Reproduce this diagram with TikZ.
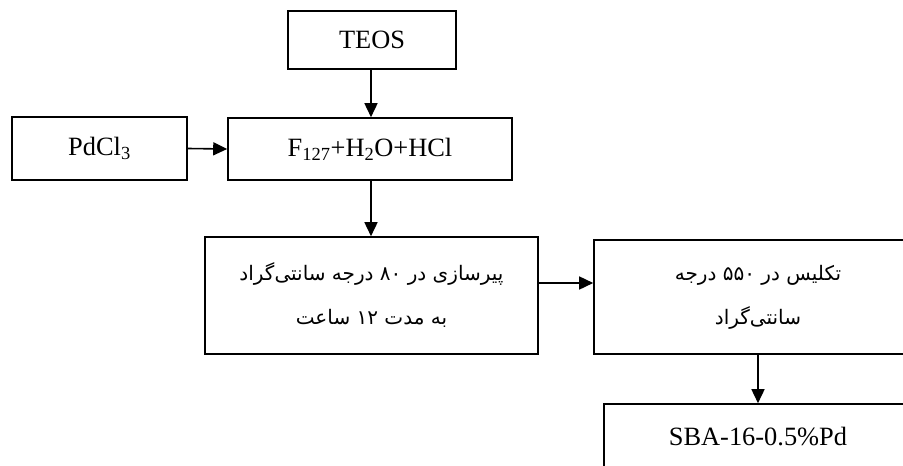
\documentclass[tikz,border=0pt]{standalone}
\usepackage{fontspec}
\setmainfont{Liberation Serif}
\newfontfamily\arabicfont[Script=Arabic]{DejaVu Sans}
\TeXXeTstate=1
\usetikzlibrary{arrows.meta}
\begin{document}
\begin{tikzpicture}[x=1pt,y=-1pt,
  box/.style={draw,line width=1.6pt,inner sep=0pt,font=\fontsize{26.4}{30}\selectfont},
  fabox/.style={box,align=center,font=\arabicfont\fontsize{20}{44}\selectfont},
  conn/.style={line width=1.6pt,-{Triangle[length=14pt,width=13pt]}}]
\useasboundingbox (0,0) rectangle (903,466);
\fill[white] (0,0) rectangle (903,466);
\begin{scope}
\clip (0,0) rectangle (903,466);
\node[box,minimum width=168pt,minimum height=58pt] (teos) at (372,40) {TEOS};
\node[box,minimum width=175pt,minimum height=63pt] (pd) at (99.5,148.5) {PdCl\textsubscript{3}};
\node[box,minimum width=284pt,minimum height=62pt] (mix) at (370,149) {F\textsubscript{127}+H\textsubscript{2}O+HCl};
\node[fabox,minimum width=333pt,minimum height=117pt] (age) at (371.5,295.5)
  {\beginR پیرسازی در ۸۰ درجه سانتی‌گراد\endR\\\beginR به مدت ۱۲ ساعت\endR};
\node[fabox,minimum width=328pt,minimum height=114pt] (calc) at (758,297)
  {\beginR تکلیس در ۵۵۰ درجه\endR\\\beginR سانتی‌گراد\endR};
\node[box,minimum width=308pt,minimum height=66pt] (sba) at (758,437) {SBA-16-0.5\%Pd};
\coordinate (a1) at (age.east |- 0,283);
\draw[conn] (teos.south -| 371,0) -- (mix.north -| 371,0);
\draw[conn] (pd.east) -- (mix.west);
\draw[conn] (mix.south -| 371,0) -- (age.north -| 371,0);
\draw[conn] (a1) -- (a1 -| calc.west);
\draw[conn] (calc.south) -- (sba.north);
\end{scope}
\end{tikzpicture}
\end{document}
